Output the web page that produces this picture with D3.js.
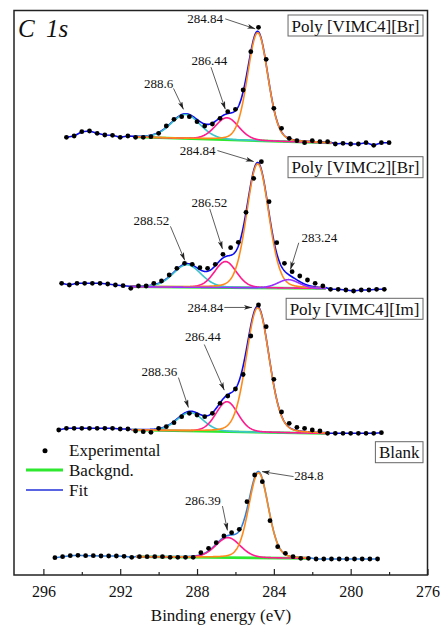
<!DOCTYPE html>
<html>
<head>
<meta charset="utf-8">
<script src="https://cdn.jsdelivr.net/npm/d3@7"></script>
<style>
  html, body { margin: 0; padding: 0; background: #fff; }
  svg { display: block; }
  svg text { font-family: "Liberation Serif", "Times New Roman", serif; }
</style>
</head>
<body>
<svg id="chart" width="440" height="626"></svg>
<script>
// ---- C 1s spectra: binding energy (eV) and intensity (a.u., above each trace's own baseline) ----
const energyVIMC4Br = [294.8,294.4,294.0,293.6,293.2,292.8,292.4,292.0,291.6,291.2,290.8,290.4,290.0,289.6,289.2,288.8,288.4,288.0,287.6,287.2,286.8,286.4,286.0,285.6,285.2,284.8,284.4,284.0,283.6,283.2,282.8,282.4,282.0,281.6,281.2,280.8,280.4,280.0,279.6,279.2,278.8,278.4,278.0];
const intensityVIMC4Br = [5.7,7.0,11.3,12.0,9.7,8.0,7.7,5.7,7.0,5.7,5.7,6.3,9.7,17.0,23.7,26.3,26.3,21.3,17.0,19.0,24.7,31.3,33.7,53.0,91.3,115.7,83.7,34.7,14.7,4.7,2.3,0.3,2.3,1.3,1.3,-1.0,-0.3,-1.0,-1.0,0.3,-2.3,0.3,0.3];

const energyVIMC2Br = [295.05,294.65,294.25,293.85,293.45,293.05,292.65,292.25,291.85,291.45,291.05,290.65,290.25,289.85,289.45,289.05,288.65,288.25,287.85,287.45,287.05,286.65,286.25,285.85,285.45,285.05,284.65,284.25,283.85,283.45,283.05,282.65,282.25,281.85,281.45,281.05,280.65,280.25,279.85,279.45,279.05,278.65,278.25];
const intensityVIMC2Br = [6.7,5.0,6.7,6.7,6.7,6.7,6.0,5.0,4.3,1.7,4.0,4.0,6.7,9.0,15.0,21.7,26.7,25.7,22.3,21.7,25.7,35.7,42.3,47.7,77.7,111.7,128.3,88.3,47.3,26.7,18.3,14.0,10.0,6.7,4.0,0.7,0.7,0.0,-1.0,0.0,0.0,0.7,0.7];

const energyVIMC4Im = [295.2,294.8,294.4,294.0,293.6,293.2,292.8,292.4,292.0,291.6,291.2,290.8,290.4,290.0,289.6,289.2,288.8,288.4,288.0,287.6,287.2,286.8,286.4,286.0,285.6,285.2,284.8,284.4,284.0,283.6,283.2,282.8,282.4,282.0,281.6,281.2,280.8,280.4,280.0,279.6,279.2,278.8,278.4];
const intensityVIMC4Im = [3.0,4.7,4.7,4.7,4.7,4.7,4.7,4.7,4.0,4.0,2.0,1.3,0.7,4.7,6.3,10.3,16.3,19.7,18.0,16.3,19.7,29.7,37.0,44.0,58.5,97.0,128.0,106.3,53.7,21.0,9.7,5.7,4.7,3.0,2.0,-0.3,-0.3,-0.3,-0.3,-0.3,-0.3,-0.3,0.3];

const energyBlank = [295.4,295.0,294.6,294.2,293.8,293.4,293.0,292.6,292.2,291.8,291.4,291.0,290.6,290.2,289.8,289.4,289.0,288.6,288.2,287.8,287.4,287.0,286.6,286.2,285.8,285.4,285.0,284.6,284.2,283.8,283.4,283.0,282.6,282.2,281.8,281.4,281.0,280.6,280.2,279.8,279.4,279.0,278.6];
const intensityBlank = [1.3,2.3,3.3,3.7,3.3,3.3,3.0,3.0,3.0,2.7,1.7,2.3,2.3,2.3,2.3,1.7,1.7,1.7,1.7,6.3,10.7,16.3,23.0,26.3,29.7,57.3,84.0,77.3,38.3,12.3,5.7,2.3,0.7,0.7,0.0,0.0,0.0,0.0,0.0,0.0,0.0,0.0,0.0];

// fitted components: centre (eV), height above background (a.u.), FWHM (eV)
const peaksVIMC4Br = [
  { kind: "c288", center: 288.6,  height: 24,   fwhm: 1.8 },
  { kind: "c286", center: 286.44, height: 22,   fwhm: 1.45 },
  { kind: "c284", center: 284.84, height: 108,  fwhm: 1.25 }
];
const peaksVIMC2Br = [
  { kind: "c288", center: 288.52, height: 22.5, fwhm: 1.7 },
  { kind: "c286", center: 286.52, height: 26,   fwhm: 1.35 },
  { kind: "c284", center: 284.84, height: 124,  fwhm: 1.35 },
  { kind: "c283", center: 283.24, height: 8.5,  fwhm: 1.3 }
];
const peaksVIMC4Im = [
  { kind: "c288", center: 288.36, height: 18.5, fwhm: 1.6 },
  { kind: "c286", center: 286.44, height: 30,   fwhm: 1.35 },
  { kind: "c284", center: 284.84, height: 124.5, fwhm: 1.4 }
];
const peaksBlank = [
  { kind: "c286", center: 286.39, height: 20,   fwhm: 1.5 },
  { kind: "c284", center: 284.8,  height: 85,   fwhm: 1.2 }
];

// fit window [high, low] (eV) and linear background at its two ends (a.u.)
const fitWindows   = [[291.24, 281.0], [291.5, 281.3], [291.4, 281.3], [291.17, 282.13]];
const backgrounds  = [[6.0, 0.0], [3.3, 1.5], [3.0, -0.5], [2.3, 0.6]];
// vertical stacking offsets of the four traces (a.u.)
const traceOffsets = [432, 285, 142, 16];
const sampleNames  = ["Poly [VIMC4][Br]", "Poly [VIMC2][Br]", "Poly [VIMC4][Im]", "Blank"];

const xTicksMajor = [296, 292, 288, 284, 280, 276];
const xTicksMinor = [294, 290, 286, 282, 278];

// ---- styling and layout ----
const SERIF = "Liberation Serif, Times New Roman, serif";
const ETA = 0.15; // Lorentzian fraction of the pseudo-Voigt line shape
const componentColor = { c288: "#3cc3cc", c286: "#ff1a8e", c284: "#ff8a1a", c283: "#9a30ff" };
const fitColors = ["#0c0cf2", "#0c0cf2", "#0c0cf2", "#2f80e0"];
const bgColor = "#2ee830";

// name-box tops (a.u.) and peak-label offsets (px): tip from peak top, text centre and arrow tail from tip
const nameBoxTop = [560, 418.3, 276.7, 133.3];
const annotationLayout = [
  { s: 0, c: 284.84, tip: [-2.5, -2.5], text: [-50, -10],    tail: [-30, -10] },
  { s: 0, c: 286.44, tip: [-1.7, -4.6], text: [-16, -48.7],  tail: [-14.3, -42] },
  { s: 0, c: 288.6,  tip: [-2, -4.3],   text: [-25, -26],    tail: [-10, -21] },
  { s: 1, c: 284.84, tip: [-4, -1],     text: [-56, -11],    tail: [-36.3, -11] },
  { s: 1, c: 286.52, tip: [-3, -7.7],   text: [-13, -46.6],  tail: [-12.7, -40] },
  { s: 1, c: 288.52, tip: [-2.3, -3.3], text: [-33.3, -40],  tail: [-14.3, -34] },
  { s: 1, c: 283.24, tip: [2, -5],      text: [29, -31.7],   tail: [8.3, -26.7] },
  { s: 2, c: 284.84, tip: [-5.7, 1],    text: [-46.7, 0],    tail: [-27.7, 0] },
  { s: 2, c: 286.44, tip: [-2.7, -5],   text: [-21.3, -53.3],tail: [-20, -45.7] },
  { s: 2, c: 288.36, tip: [-1.7, -3.7], text: [-29, -36.3],  tail: [-10, -30] },
  { s: 3, c: 284.8,  tip: [3.5, 0],     text: [47, 4],       tail: [31.6, 5] },
  { s: 3, c: 286.39, tip: [-0.5, -5],   text: [-24.7, -30],  tail: [-5, -24.4] }
];

// ---- build traces ----
const traces = [
  [energyVIMC4Br, intensityVIMC4Br, peaksVIMC4Br],
  [energyVIMC2Br, intensityVIMC2Br, peaksVIMC2Br],
  [energyVIMC4Im, intensityVIMC4Im, peaksVIMC4Im],
  [energyBlank, intensityBlank, peaksBlank]
].map(([energy, intensity, peaks], i) => ({
  name: sampleNames[i],
  points: energy.map((e, k) => ({ e, v: intensity[k] })),
  peaks,
  offset: traceOffsets[i],
  win: fitWindows[i],
  bg: backgrounds[i],
  fitColor: fitColors[i]
}));

function pseudoVoigt(e, p) {
  const d = (e - p.center) / p.fwhm;
  return p.height * ((1 - ETA) * Math.exp(-4 * Math.LN2 * d * d) + ETA / (1 + 4 * d * d));
}
function background(t, e) {
  const [hi, lo] = t.win, [b0, b1] = t.bg;
  return b0 + (b1 - b0) * (hi - e) / (hi - lo);
}

const svg = d3.select("#chart");
const x = d3.scaleLinear().domain([297.53, 276]).range([14, 427.5]);
const y = d3.scaleLinear().domain([0, 565]).range([575, 10]);
const line = d3.line().x(d => x(d.e)).y(d => y(d.v));

const plot = svg.append("g");

traces.forEach(t => {
  const [hi, lo] = t.win;
  const grid = d3.range(hi, lo - 1e-9, -0.02).concat([lo]);
  const g = plot.append("g");

  // background
  g.append("path")
    .attr("d", line([hi, lo].map(e => ({ e, v: t.offset + background(t, e) }))))
    .attr("fill", "none").attr("stroke", bgColor).attr("stroke-width", 2.6);

  // envelope: raw trace outside the window, model sum inside it
  const envelope = t.points.filter(p => p.e > hi).map(p => ({ e: p.e, v: t.offset + p.v }))
    .concat(grid.map(e => ({ e, v: t.offset + background(t, e) + d3.sum(t.peaks, p => pseudoVoigt(e, p)) })))
    .concat(t.points.filter(p => p.e < lo).map(p => ({ e: p.e, v: t.offset + p.v })));
  g.append("path")
    .attr("d", line(envelope))
    .attr("fill", "none").attr("stroke", t.fitColor).attr("stroke-width", 1.6)
    .attr("stroke-linejoin", "round");

  // individual components
  t.peaks.forEach(p => {
    g.append("path")
      .attr("d", line(grid.map(e => ({ e, v: t.offset + background(t, e) + pseudoVoigt(e, p) }))))
      .attr("fill", "none").attr("stroke", componentColor[p.kind]).attr("stroke-width", 1.6);
  });

  // measured points
  g.selectAll("circle").data(t.points).join("circle")
    .attr("cx", d => x(d.e)).attr("cy", d => y(t.offset + d.v)).attr("r", 2.4)
    .attr("fill", "#000");
});

// ---- peak annotations ----
const defs = svg.append("defs");
defs.append("marker")
  .attr("id", "head").attr("viewBox", "0 0 10 6").attr("refX", 10).attr("refY", 3)
  .attr("markerWidth", 8).attr("markerHeight", 5).attr("markerUnits", "userSpaceOnUse")
  .attr("orient", "auto")
  .append("path").attr("d", "M0,0 L10,3 L0,6 L2.5,3 Z").attr("fill", "#222");

const ann = svg.append("g");
annotationLayout.forEach(a => {
  const t = traces[a.s];
  const p = t.peaks.find(q => q.center === a.c);
  const top = t.offset + background(t, p.center) + d3.sum(t.peaks, q => pseudoVoigt(p.center, q));
  const tx = x(p.center) + a.tip[0], ty = y(top) + a.tip[1];
  ann.append("line")
    .attr("x1", tx + a.tail[0]).attr("y1", ty + a.tail[1])
    .attr("x2", tx).attr("y2", ty)
    .attr("stroke", "#333").attr("stroke-width", 0.8).attr("marker-end", "url(#head)");
  ann.append("text")
    .attr("x", tx + a.text[0]).attr("y", ty + a.text[1]).attr("dy", "0.35em")
    .attr("text-anchor", "middle").attr("font-family", SERIF).attr("font-size", 13).attr("fill", "#111")
    .text(String(a.c));
});

// ---- sample name boxes ----
traces.forEach((t, i) => {
  const g = svg.append("g");
  const txt = g.append("text").attr("font-family", SERIF).attr("font-size", 17).attr("fill", "#111").text(t.name);
  const w = txt.node().getComputedTextLength();
  const right = 423, top = y(nameBoxTop[i]);
  g.insert("rect", "text")
    .attr("x", right - w - 7).attr("y", top).attr("width", w + 7).attr("height", 21)
    .attr("fill", "#fff").attr("stroke", "#666").attr("stroke-width", 1);
  txt.attr("x", right - w - 3.5).attr("y", top + 16.5);
});

// ---- frame and axis ----
svg.append("rect")
  .attr("x", 14).attr("y", 10.5).attr("width", 413.5).attr("height", 564.5)
  .attr("fill", "none").attr("stroke", "#222").attr("stroke-width", 1.5);

const axisMajor = svg.append("g").attr("transform", "translate(0,575)")
  .call(d3.axisBottom(x).tickValues(xTicksMajor).tickSize(-6).tickPadding(11).tickFormat(d3.format("d")));
const axisMinor = svg.append("g").attr("transform", "translate(0,575)")
  .call(d3.axisBottom(x).tickValues(xTicksMinor).tickSize(-3).tickFormat(""));
[axisMajor, axisMinor].forEach(a => {
  a.attr("font-family", SERIF);
  a.select(".domain").remove();
  a.selectAll("line").attr("stroke", "#222").attr("stroke-width", 1.2);
});
axisMajor.selectAll("text").attr("font-size", 16).attr("font-family", SERIF).attr("fill", "#111");

svg.append("text")
  .attr("x", 221).attr("y", 621).attr("text-anchor", "middle")
  .attr("font-family", SERIF).attr("font-size", 17).attr("fill", "#111").text("Binding energy (eV)");

// ---- element tag ----
svg.append("text")
  .attr("x", 18).attr("y", 36.5).attr("font-family", SERIF).attr("font-size", 25).attr("font-style", "italic")
  .attr("word-spacing", 5).attr("fill", "#111").text("C 1s");

// ---- legend ----
const legend = svg.append("g");
legend.append("circle").attr("cx", 45).attr("cy", 450.7).attr("r", 2.5).attr("fill", "#000");
legend.append("line").attr("x1", 26).attr("x2", 63).attr("y1", 470).attr("y2", 470)
  .attr("stroke", bgColor).attr("stroke-width", 3);
legend.append("line").attr("x1", 26).attr("x2", 63).attr("y1", 490).attr("y2", 490)
  .attr("stroke", "#2030d8").attr("stroke-width", 1.5);
[["Experimental", 456], ["Backgnd.", 475.5], ["Fit", 495.5]].forEach(([s, yy]) => {
  legend.append("text").attr("x", 69).attr("y", yy).attr("font-family", SERIF)
    .attr("font-size", 17).attr("fill", "#111").text(s);
});
</script>
</body>
</html>
